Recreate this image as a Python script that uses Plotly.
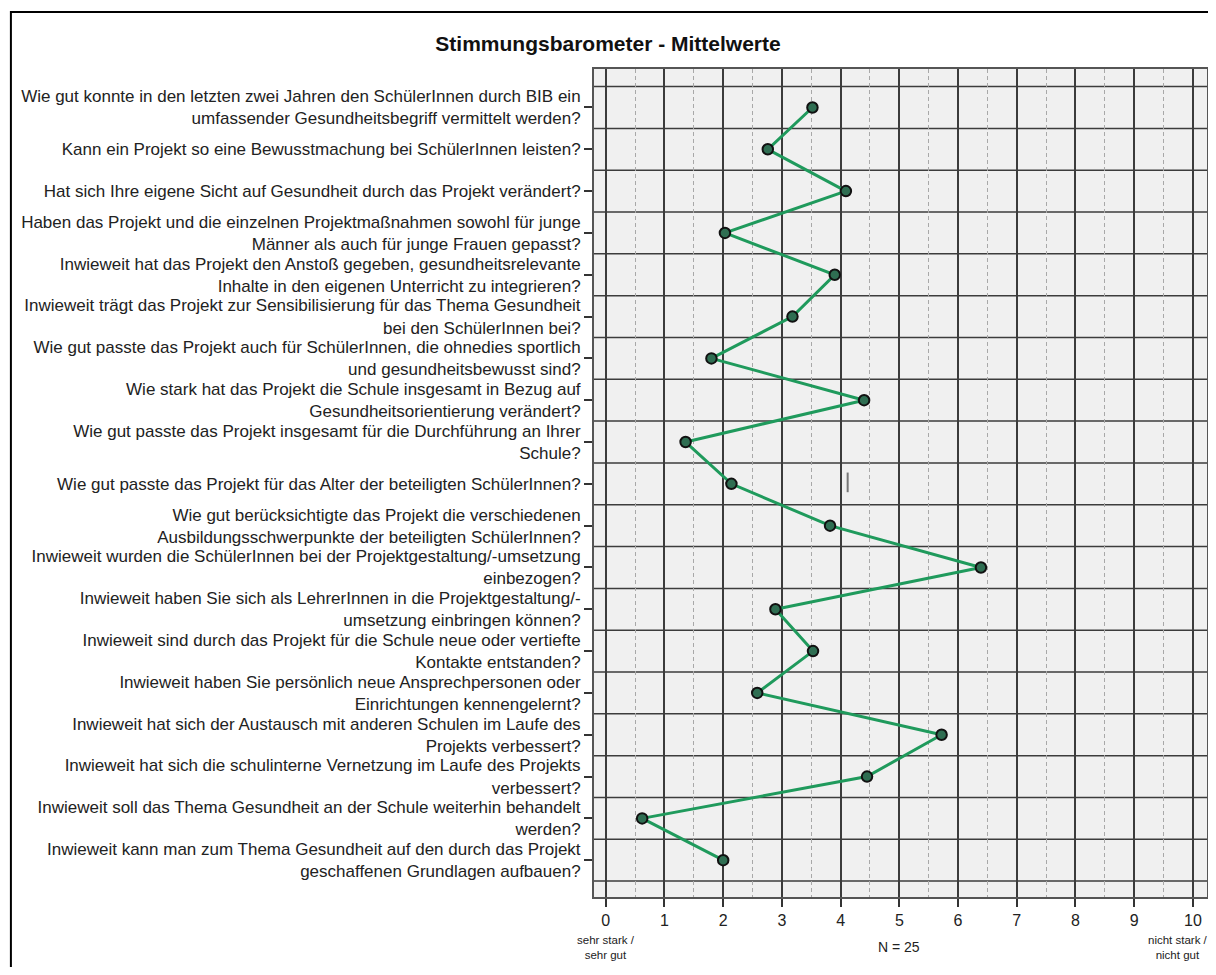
import plotly.graph_objects as go

questions = [
    "Wie gut konnte in den letzten zwei Jahren den SchülerInnen durch BIB ein<br>umfassender Gesundheitsbegriff vermittelt werden?",
    "Kann ein Projekt so eine Bewusstmachung bei SchülerInnen leisten?",
    "Hat sich Ihre eigene Sicht auf Gesundheit durch das Projekt verändert?",
    "Haben das Projekt und die einzelnen Projektmaßnahmen sowohl für junge<br>Männer als auch für junge Frauen gepasst?",
    "Inwieweit hat das Projekt den Anstoß gegeben, gesundheitsrelevante<br>Inhalte in den eigenen Unterricht zu integrieren?",
    "Inwieweit trägt das Projekt zur Sensibilisierung für das Thema Gesundheit<br>bei den SchülerInnen bei?",
    "Wie gut passte das Projekt auch für SchülerInnen, die ohnedies sportlich<br>und gesundheitsbewusst sind?",
    "Wie stark hat das Projekt die Schule insgesamt in Bezug auf<br>Gesundheitsorientierung verändert?",
    "Wie gut passte das Projekt insgesamt für die Durchführung an Ihrer<br>Schule?",
    "Wie gut passte das Projekt für das Alter der beteiligten SchülerInnen?",
    "Wie gut berücksichtigte das Projekt die verschiedenen<br>Ausbildungsschwerpunkte der beteiligten SchülerInnen?",
    "Inwieweit wurden die SchülerInnen bei der Projektgestaltung/-umsetzung<br>einbezogen?",
    "Inwieweit haben Sie sich als LehrerInnen in die Projektgestaltung/-<br>umsetzung einbringen können?",
    "Inwieweit sind durch das Projekt für die Schule neue oder vertiefte<br>Kontakte entstanden?",
    "Inwieweit haben Sie persönlich neue Ansprechpersonen oder<br>Einrichtungen kennengelernt?",
    "Inwieweit hat sich der Austausch mit anderen Schulen im Laufe des<br>Projekts verbessert?",
    "Inwieweit hat sich die schulinterne Vernetzung im Laufe des Projekts<br>verbessert?",
    "Inwieweit soll das Thema Gesundheit an der Schule weiterhin behandelt<br>werden?",
    "Inwieweit kann man zum Thema Gesundheit auf den durch das Projekt<br>geschaffenen Grundlagen aufbauen?",
]

mean_values = [3.52, 2.76, 4.09, 2.03, 3.90, 3.18, 1.80, 4.40, 1.36, 2.14,
               3.82, 6.39, 2.89, 3.53, 2.58, 5.72, 4.45, 0.62, 2.00]

x_ticks = [0, 1, 2, 3, 4, 5, 6, 7, 8, 9, 10]
x_tick_text = [str(v) for v in x_ticks]
scale_low_label = "sehr stark /<br>sehr gut"
scale_high_label = "nicht stark /<br>nicht gut"
n_label = "N = 25"
title_text = "Stimmungsbarometer - Mittelwerte"
ref_mark_x = 4.12
ref_mark_index = 9

FONT = "Liberation Sans, Arial, sans-serif"
idx = list(range(len(questions)))

# page body has an 8px margin -> figure is 8px smaller than the window
W, H = 1208, 959
L, R, T, B = 586, 7, 61, 70
PW = W - L - R
PH = H - T - B

fig = go.Figure()
fig.add_trace(go.Scatter(
    x=mean_values, y=idx, mode="lines+markers",
    line=dict(color="#1f9a5c", width=3),
    marker=dict(size=10.5, color="#2f6e52", line=dict(color="#111111", width=2)),
    showlegend=False, hoverinfo="x+y",
))

shapes = []
for i in range(len(questions) + 1):
    shapes.append(dict(type="line", xref="paper", yref="y", x0=0, x1=1,
                       y0=i - 0.5, y1=i - 0.5,
                       line=dict(color="#3c3c3c", width=1.5), layer="below"))
shapes.append(dict(type="line", xref="x", yref="y", x0=ref_mark_x, x1=ref_mark_x,
                   y0=ref_mark_index - 0.27, y1=ref_mark_index + 0.2,
                   line=dict(color="#777777", width=2), layer="above"))
shapes.append(dict(type="rect", xref="paper", yref="paper",
                   x0=(1 - L) / PW, x1=1.2, y0=-0.3, y1=1 + (T - 4) / PH,
                   line=dict(color="black", width=2), fillcolor="rgba(0,0,0,0)",
                   layer="below"))

ann_y = -(939 - 889) / PH
annotations = [
    dict(x=0, y=ann_y, xref="x", yref="paper", text=scale_low_label,
         showarrow=False, font=dict(family=FONT, size=11.5, color="#222"),
         xanchor="center", yanchor="middle", align="center"),
    dict(x=(1204 - L) / PW, y=ann_y, xref="paper", yref="paper", text=scale_high_label,
         showarrow=False, font=dict(family=FONT, size=11.5, color="#222"),
         xanchor="right", yanchor="middle", align="center"),
    dict(x=5, y=ann_y, xref="x", yref="paper", text=n_label,
         showarrow=False, font=dict(family=FONT, size=14, color="#222"),
         xanchor="center", yanchor="middle"),
]

fig.update_layout(
    width=W, height=H,
    margin=dict(l=L, r=R, t=T, b=B),
    paper_bgcolor="white", plot_bgcolor="#f0f0f0",
    title=dict(text="<b>" + title_text + "</b>", x=(608 - 8) / W, xanchor="center",
               y=1 - 36 / H, yanchor="middle", yref="container",
               font=dict(family=FONT, size=21, color="#111")),
    font=dict(family=FONT, color="#222"),
    shapes=shapes, annotations=annotations,
)

fig.update_xaxes(
    range=[-0.2, 10.24], tickvals=x_ticks, ticktext=x_tick_text,
    showgrid=True, gridcolor="#3c3c3c", gridwidth=1.5,
    minor=dict(dtick=0.5, tick0=0.5, showgrid=True, gridcolor="#a8a8a8",
               griddash="4px,3px", gridwidth=1),
    showline=True, mirror=True, linecolor="#555555", linewidth=2,
    ticks="outside", ticklen=8, tickcolor="#333", tickwidth=1.5,
    tickfont=dict(family=FONT, size=16, color="#222"),
    zeroline=False,
)
fig.update_yaxes(
    range=[18.88, -0.92], tickvals=idx, ticktext=questions,
    showgrid=False, zeroline=False,
    showline=True, mirror=True, linecolor="#555555", linewidth=2,
    ticks="outside", ticklen=8, tickcolor="#333", tickwidth=1.5,
    tickfont=dict(family=FONT, size=17, color="#222"),
)

fig.write_html("out.html")
